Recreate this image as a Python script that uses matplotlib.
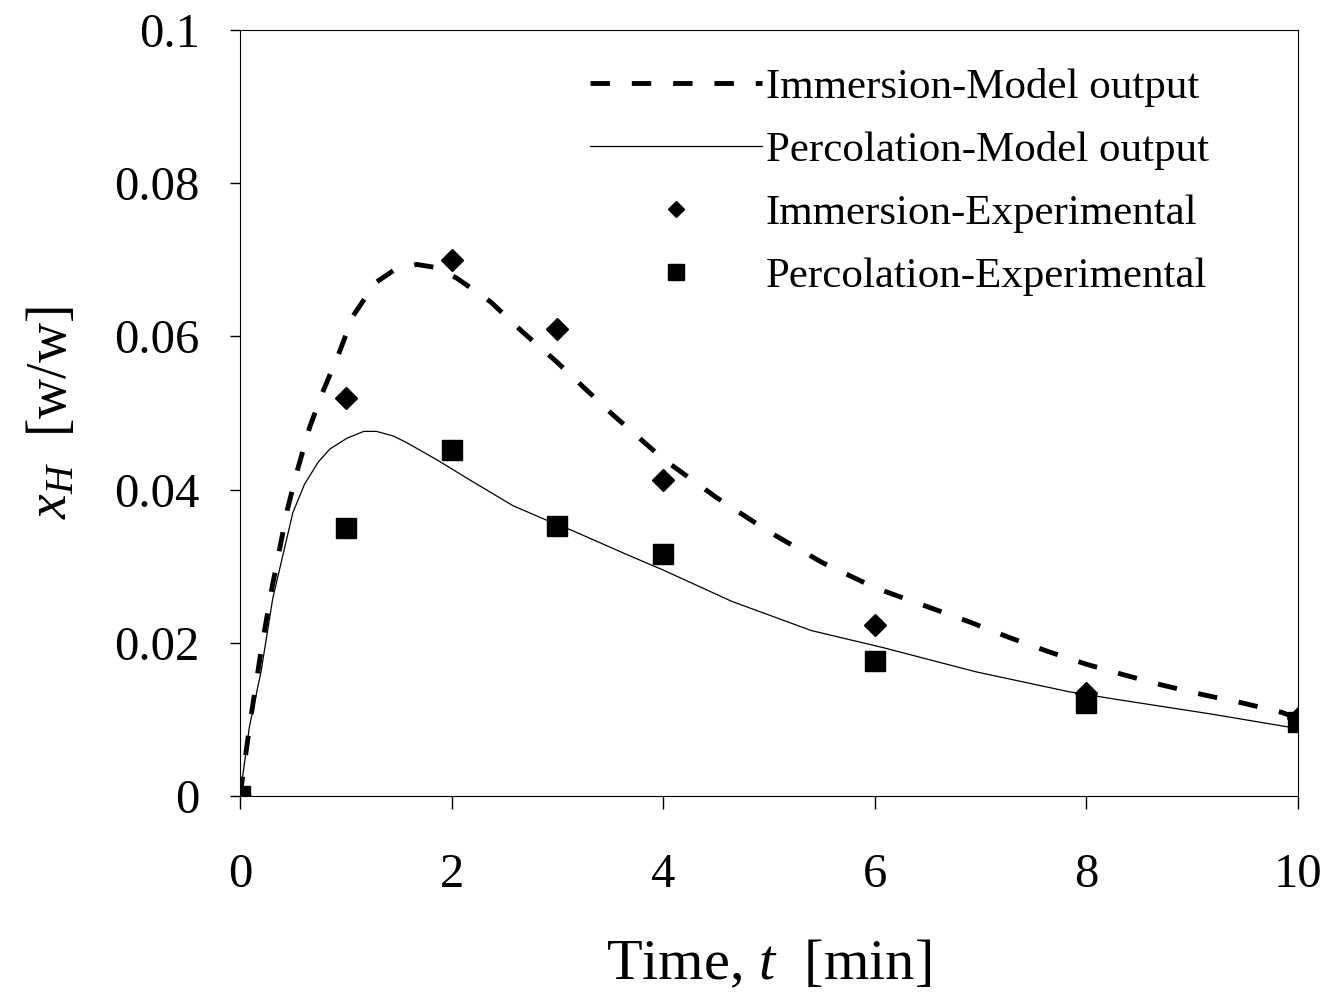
import matplotlib
matplotlib.use("Agg")
import matplotlib.pyplot as plt

plt.rcParams['font.family'] = ['Liberation Serif', 'DejaVu Serif']
plt.rcParams['mathtext.fontset'] = 'custom'
plt.rcParams['mathtext.rm'] = 'Liberation Serif'
plt.rcParams['mathtext.it'] = 'Liberation Serif:italic'

# model curves
immModelT = [0, 0.1, 0.2, 0.3, 0.38, 0.45, 0.54, 0.66, 0.79, 0.93, 1.07, 1.28, 1.45, 1.67,
             1.85, 2.05, 2.37, 2.67, 3.0, 3.26, 3.53, 4.0, 4.5, 5.0, 5.5, 6.0, 6.54, 6.9,
             7.25, 7.63, 8.0, 8.36, 8.71, 9.11, 9.49, 9.85, 10]
immModelX = [0, 0.010, 0.019, 0.027, 0.0326, 0.0375, 0.0424, 0.0482, 0.053, 0.0576, 0.0627,
             0.067, 0.0686, 0.0694, 0.0690, 0.0676, 0.0645, 0.0606, 0.0566, 0.0532, 0.0497,
             0.0440, 0.0390, 0.0345, 0.0305, 0.0272, 0.0245, 0.0227, 0.0208, 0.0189, 0.0172,
             0.0158, 0.0145, 0.0132, 0.0121, 0.0109, 0.0101]

percModelT = [0, 0.09, 0.2, 0.31, 0.41, 0.5, 0.61, 0.74, 0.85, 1.01, 1.17, 1.29, 1.45, 1.58,
              1.86, 2.18, 2.58, 2.9, 3.15, 3.66, 4.0, 4.65, 5.4, 6.07, 6.96, 7.84, 8.29, 9.18, 10]
percModelX = [0, 0.0091, 0.0163, 0.0258, 0.0317, 0.037, 0.0407, 0.0436, 0.0453, 0.0467, 0.0476,
              0.0476, 0.0470, 0.0461, 0.0439, 0.0412, 0.0379, 0.036, 0.0346, 0.0315, 0.0295,
              0.0254, 0.0216, 0.0194, 0.0162, 0.0136, 0.0126, 0.0107, 0.0088]

# experimental points
expT = [0, 1, 2, 3, 4, 6, 8, 10]
immExp = [0, 0.052, 0.070, 0.061, 0.0413, 0.0223, 0.0134, 0.0102]
percExp = [0, 0.035, 0.0452, 0.0352, 0.0316, 0.0176, 0.0121, 0.0097]

xTicks = [0, 2, 4, 6, 8, 10]
yTicks = [0, 0.02, 0.04, 0.06, 0.08, 0.1]
yTickLabels = ['0', '0.02', '0.04', '0.06', '0.08', '0.1']

fig = plt.figure(figsize=(13.28, 10.01), dpi=100)
ax = fig.add_axes([0.1807, 0.2048, 0.7967, 0.7652])

ax.plot(immModelT, immModelX, color='black', linestyle=(0, (4, 4.5)), linewidth=3.5,
        label='Immersion-Model output')
ax.plot(percModelT, percModelX, color='black', linestyle='-', linewidth=0.9,
        label='Percolation-Model output')
ax.plot(expT, immExp, linestyle='none', marker='D', markersize=11, color='black',
        label='Immersion-Experimental')
ax.plot(expT, percExp, linestyle='none', marker='s', markersize=15, color='black',
        label='Percolation-Experimental')

ax.set_xlim(0, 10)
ax.set_ylim(0, 0.1)
ax.set_xticks(xTicks)
ax.set_xticklabels([str(t) for t in xTicks])
ax.set_yticks(yTicks)
ax.set_yticklabels(yTickLabels)
ax.tick_params(axis='x', direction='out', length=9, width=1, pad=32, labelsize=35)
ax.tick_params(axis='y', direction='out', length=7, width=1, pad=22, labelsize=35)
for s in ax.spines.values():
    s.set_linewidth(0.8)

ax.set_xlabel('Time, $t$  [min]', fontsize=42, labelpad=30)
ax.set_ylabel('$x_{H}$  [w/w]', fontsize=40, labelpad=26)

leg = ax.legend(loc='upper left', frameon=False, fontsize=31, handlelength=4.0,
                handletextpad=0.08, labelspacing=0.55, markerscale=0.75,
                borderpad=0, borderaxespad=0, bbox_to_anchor=(0.331, 0.95))

fig.savefig('out.png', dpi=100)
